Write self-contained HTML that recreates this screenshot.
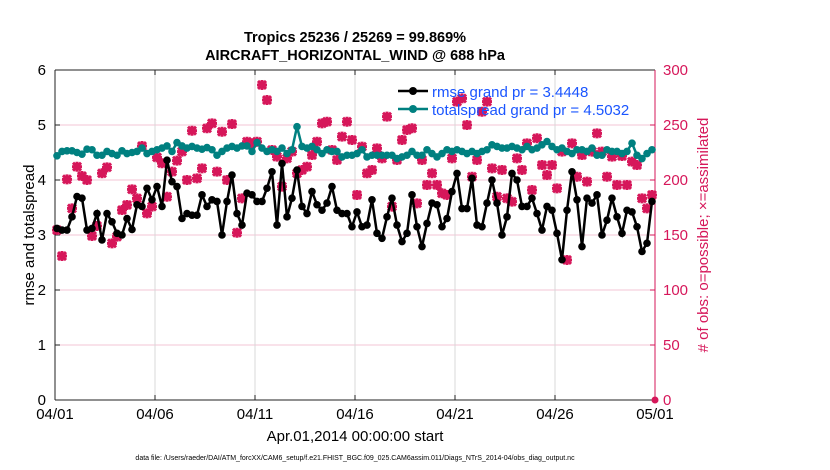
<!DOCTYPE html>
<html><head><meta charset="utf-8"><style>
body{margin:0;background:#fff;}
svg{display:block;font-family:"Liberation Sans",sans-serif;}
</style></head><body>
<svg id="chart" width="830" height="470" viewBox="0 0 830 470">
<text x="355" y="42" text-anchor="middle" font-size="14.5" font-weight="bold">Tropics 25236 / 25269 = 99.869%</text>
<text x="355" y="60" text-anchor="middle" font-size="14.5" font-weight="bold">AIRCRAFT_HORIZONTAL_WIND @ 688 hPa</text>
<g id="grid"></g>
<g id="axes"></g>
<g id="series"></g>
<g id="legend">
<line x1="398" y1="91" x2="428" y2="91" stroke="#000" stroke-width="2.5"/>
<circle cx="413" cy="91" r="4" fill="#000"/>
<text x="432" y="97" font-size="15" fill="#1a55ff">rmse grand pr = 3.4448</text>
<line x1="398" y1="109" x2="428" y2="109" stroke="#008080" stroke-width="2.5"/>
<circle cx="413" cy="109" r="4" fill="#008080"/>
<text x="432" y="115" font-size="15" fill="#1a55ff">totalspread grand pr = 4.5032</text>
</g>
<text transform="translate(34,235) rotate(-90)" text-anchor="middle" font-size="15">rmse and totalspread</text>
<text transform="translate(708,235) rotate(-90)" text-anchor="middle" font-size="15" fill="#d6175a"># of obs: o=possible; ×=assimilated</text>
<text x="355" y="441" text-anchor="middle" font-size="15">Apr.01,2014 00:00:00 start</text>
<text x="355" y="460" text-anchor="middle" font-size="7">data file: /Users/raeder/DAI/ATM_forcXX/CAM6_setup/f.e21.FHIST_BGC.f09_025.CAM6assim.011/Diags_NTrS_2014-04/obs_diag_output.nc</text>
</svg>
<script>
const xTickLabels=["04/01","04/06","04/11","04/16","04/21","04/26","05/01"];
const xTickDays=[0,5,10,15,20,25,30];
const yLeftTicks=[0,1,2,3,4,5,6];
const yRightTicks=[0,50,100,150,200,250,300];
const rmse=[3.12,3.09,3.09,3.33,3.70,3.67,3.09,3.12,3.39,2.91,3.39,3.24,3.03,3.00,3.30,3.10,3.55,3.52,3.85,3.64,3.88,3.52,4.36,3.97,3.88,3.30,3.39,3.36,3.36,3.73,3.52,3.64,3.61,3.00,3.61,4.09,3.39,3.18,3.76,3.73,3.61,
3.61,3.85,4.15,3.18,4.30,3.33,3.67,4.18,3.52,3.39,3.79,3.55,3.45,3.58,3.88,3.45,3.39,3.39,3.15,3.42,3.15,3.18,3.64,3.03,2.94,3.33,3.67,3.18,2.88,3.03,3.73,3.15,2.79,3.21,3.58,3.55,3.15,3.30,3.79,4.12,
3.48,3.48,4.03,3.18,3.15,3.58,4.00,3.58,3.00,3.33,4.12,4.00,3.52,3.52,3.67,3.39,3.09,3.52,3.45,3.03,2.55,3.45,4.15,3.64,2.79,3.67,3.58,3.73,3.00,3.27,3.67,3.33,3.03,3.45,3.42,3.15,2.70,2.85,3.61];
const spread=[4.44,4.52,4.53,4.53,4.50,4.47,4.56,4.55,4.45,4.45,4.52,4.48,4.45,4.53,4.48,4.50,4.52,4.58,4.48,4.52,4.55,4.58,4.62,4.52,4.68,4.62,4.58,4.61,4.58,4.56,4.59,4.55,4.45,4.52,4.58,4.61,4.58,4.62,4.62,4.52,4.68,
4.58,4.52,4.55,4.52,4.58,4.48,4.55,4.97,4.61,4.58,4.61,4.55,4.48,4.55,4.52,4.52,4.42,4.45,4.45,4.48,4.55,4.42,4.45,4.45,4.45,4.45,4.45,4.39,4.42,4.45,4.52,4.45,4.45,4.55,4.48,4.42,4.48,4.55,4.52,4.55,
4.52,4.48,4.52,4.48,4.52,4.55,4.64,4.61,4.58,4.58,4.61,4.58,4.55,4.61,4.55,4.58,4.64,4.70,4.61,4.55,4.58,4.52,4.48,4.55,4.55,4.52,4.58,4.45,4.45,4.55,4.52,4.52,4.48,4.52,4.67,4.45,4.39,4.48,4.55];
const nobs=[154.5,130.9,200.6,174.2,212.1,203.6,200,149.1,158.2,206.1,211.5,142.4,148.5,172.7,177.3,191.5,183.3,230.9,169.7,175.8,220.6,215.2,184.8,207.6,217.6,225.8,200,244.8,201.5,210.6,247,251.5,207.6,243.9,200,250.9,152.1,183.3,234.8,233.3,234.8,
286.4,272.7,227.3,221.2,194,219.7,225.8,206.1,209.1,212.1,222.7,234.8,251.5,253,227.3,218.2,239.4,253,236.4,186.4,230.3,206.1,209.1,228.8,219.7,257.6,175.8,218.2,236.4,245.5,247,178.8,218.2,195.5,206.1,195.5,187.9,186.4,219.7,271.2,
274.2,250,203,218.2,262.1,271.2,210.6,184.8,209.1,183.3,180.3,219.7,209.1,233.3,190.9,237.9,213.6,204.5,213.6,192.4,225.8,127.3,233.3,203,222.7,198.5,225.8,242.4,225.8,203,221.2,195.5,221.8,195.5,216.7,213.6,183.3,174.2,186.4];
const L=55,R=655,T=70,B=400;
const xs=d=>L+(R-L)*d/30;
const yl=v=>B-(B-T)*v/6;
const yr=v=>B-(B-T)*v/300;
const tday=i=>(i+0.4)/4;
const NS="http://www.w3.org/2000/svg";
function mk(tag,attrs,parent){const e=document.createElementNS(NS,tag);for(const k in attrs)e.setAttribute(k,attrs[k]);parent.appendChild(e);return e;}
const grid=document.getElementById('grid'),axes=document.getElementById('axes'),ser=document.getElementById('series');
mk('rect',{x:L,y:T,width:R-L,height:B-T,fill:'#fff'},grid);
yLeftTicks.forEach(v=>{if(v>0&&v<6){const g=mk('line',{x1:L,x2:R,y1:yl(v),y2:yl(v),stroke:'#f3c6d6','stroke-width':1},grid);

}});
xTickDays.forEach((d,i)=>{if(i>0&&i<6){const g=mk('line',{x1:xs(d),x2:xs(d),y1:T,y2:B,stroke:'#d8d8d8','stroke-width':1},grid);

}
const t=mk('line',{x1:xs(d),x2:xs(d),y1:B,y2:B-5,stroke:'#222'},axes);
const tt=mk('line',{x1:xs(d),x2:xs(d),y1:T,y2:T+5,stroke:'#222'},axes);
const lb=mk('text',{x:xs(d),y:B+19,'text-anchor':'middle','font-size':15},axes);lb.textContent=xTickLabels[i];

});
yLeftTicks.forEach(v=>{mk('line',{x1:L,x2:L+5,y1:yl(v),y2:yl(v),stroke:'#222'},axes);
const lb=mk('text',{x:L-9,y:yl(v)+5,'text-anchor':'end','font-size':15},axes);lb.textContent=v;

});
yRightTicks.forEach(v=>{mk('line',{x1:R-5,x2:R,y1:yr(v),y2:yr(v),stroke:'#d6175a'},axes);
const lb=mk('text',{x:R+8,y:yr(v)+5,'font-size':15,fill:'#d6175a'},axes);lb.textContent=v;

});
mk('line',{x1:L,x2:R,y1:T,y2:T,stroke:'#222'},axes);
mk('line',{x1:L,x2:R,y1:B,y2:B,stroke:'#222'},axes);
mk('line',{x1:L,x2:L,y1:T,y2:B,stroke:'#222'},axes);
mk('line',{x1:R,x2:R,y1:T,y2:B,stroke:'#d6175a'},axes);
function line(vals,f,col,name){const pts=vals.map((v,i)=>xs(tday(i))+','+f(v)).join(' ');
const p=mk('polyline',{points:pts,fill:'none',stroke:col,'stroke-width':2.5},ser);


vals.forEach((v,i)=>{const c=mk('circle',{cx:xs(tday(i)),cy:f(v),r:3.8,fill:col},ser);

});}
nobs.forEach((v,i)=>{const x=xs(tday(i)),y=yr(v);
const g=mk('g',{},ser);


mk('path',{d:`M${x-4} ${y-4}L${x+4} ${y+4}M${x-4} ${y+4}L${x+4} ${y-4}M${x-5} ${y}H${x+5}M${x} ${y-5}V${y+5}`,stroke:'#d6175a','stroke-width':3},g);});
const end=mk('circle',{cx:R,cy:yr(0),r:3.5,fill:'#d6175a'},ser);


line(spread,yl,'#008080','totalspread');
line(rmse,yl,'#000','rmse');
</script>
</body></html>
